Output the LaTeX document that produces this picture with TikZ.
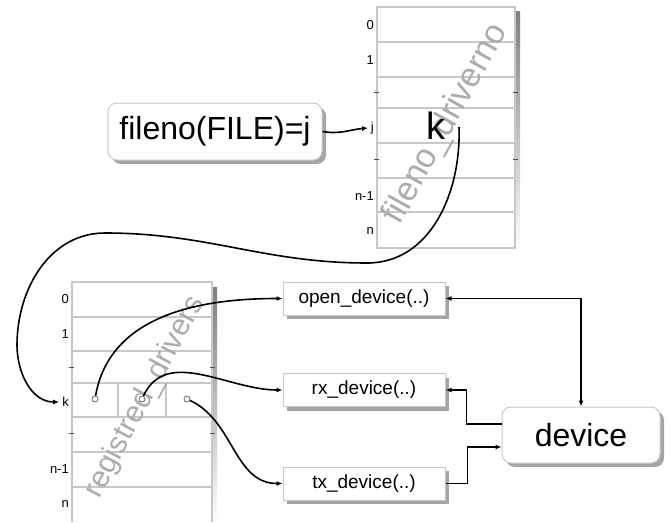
\documentclass[tikz,border=0pt]{standalone}
\usepackage{fontspec}
\setmainfont{Liberation Sans}
\usetikzlibrary{arrows.meta,shadows,calc}
\definecolor{gridline}{RGB}{200,200,200}
\definecolor{shade}{RGB}{165,165,165}
\definecolor{watermark}{RGB}{172,172,172}
\tikzset{
  conn/.style={line width=1.6pt,black},
  tip/.style={-{Latex[length=6pt,width=5pt]}},
  shadowed/.style={general shadow={fill=shade,shadow xshift=4pt,shadow yshift=-4pt}},
  funcbox/.style={draw=gridline,line width=1pt,fill=white,shadowed,minimum width=162pt,minimum height=33pt,inner sep=0pt,font=\fontsize{19}{21}\selectfont},
  bigbox/.style={draw=gridline,line width=1pt,fill=white,shadowed,rounded corners=9pt,inner sep=0pt,font=\fontsize{32}{34}\selectfont},
  idx/.style={anchor=east,inner sep=0pt,font=\fontsize{13}{14}\selectfont},
  wm/.style={text=watermark,inner sep=0pt},
  tick/.style={line width=1pt,black!70},
  hole/.style={circle,draw=black!60,fill=white,line width=0.8pt,minimum size=6pt,inner sep=0pt}
}
\begin{document}
\begin{tikzpicture}[x=1pt,y=-1pt]
\useasboundingbox (0,0) rectangle (671,522);

% ---- fileno_driverno table ----
\fill[shade] (382,11) rectangle (520,252);
\fill[white] (377,7) rectangle (515,248);
\foreach \yy in {42,77,108,143,178,212}
  \draw[gridline,line width=1.2pt] (377,\yy) -- (515,\yy);
\draw[gridline,line width=1.2pt] (377,7) rectangle (515,248);
\foreach \yy in {92,159} {
  \draw[tick] (374,\yy) -- (379,\yy);
  \draw[tick] (513,\yy) -- (518,\yy);
}
\node[idx] (u0) at (374,25) {0};
\node[idx] (u1) at (374,60) {1};
\node[idx] (uj) at (374,128) {j};
\node[idx] (un1) at (374,196) {n-1};
\node[idx] (un) at (374,231) {n};
\node[wm,rotate=61,font=\fontsize{34}{36}\selectfont] (fdn) at (446,124) {fileno\_driverno};
\node[inner sep=0pt,font=\fontsize{38}{40}\selectfont] (kval) at (436,126) {k};
\coordinate (ksrc) at (459,127);

% ---- registred_drivers table ----
\fill[shade] (76,287) rectangle (217,526);
\fill[white] (72,282) rectangle (212,522);
\foreach \yy in {317,351,417,452,487}
  \draw[gridline,line width=1.2pt] (72,\yy) -- (212,\yy);
\draw[gridline,line width=2.5pt] (72,383) -- (212,383);
\draw[gridline,line width=1.2pt] (118,383) -- (118,417);
\draw[gridline,line width=1.2pt] (166,383) -- (166,417);
\draw[gridline,line width=1.2pt] (72,522) -- (72,282) -- (212,282) -- (212,522);
\foreach \yy in {367,433} {
  \draw[tick] (69,\yy) -- (74,\yy);
  \draw[tick] (210,\yy) -- (215,\yy);
}
\node[idx] (l0) at (69,299) {0};
\node[idx] (l1) at (69,334) {1};
\node[idx] (lk) at (69,402) {k};
\node[idx] (ln1) at (69,469) {n-1};
\node[idx] (ln) at (69,504) {n};
\node[hole] (hopen) at (95,399) {};
\node[hole] (hrx) at (142,399) {};
\node[hole] (htx) at (187,399) {};
\node[wm,rotate=62,font=\fontsize{30}{32}\selectfont] (rdn) at (145,397) {registred\_drivers};

% ---- boxes ----
\node[bigbox,minimum width=214pt,minimum height=57pt] (fileno) at (215,131.5) {fileno(FILE)=j};
\node[funcbox] (open) at (364,298.5) {open\_device(..)};
\node[funcbox] (rx) at (364,390) {rx\_device(..)};
\node[funcbox] (tx) at (364,483.5) {tx\_device(..)};
\node[bigbox,minimum width=158pt,minimum height=56pt] (device) at (581,435) {device};

% ---- connectors ----
\draw[conn,tip] (fileno.east) to[out=-10,in=185] (uj.west -| 368,126);
\draw[conn,tip] (ksrc) to[out=-88,in=0] (367,263)
  to[out=180,in=0] (105,233)
  to[out=180,in=90] (17,345)
  to[out=-90,in=180] ($(lk.west)+(-3,0)$);
\draw[conn,tip] (hopen) to[out=80,in=180] (open.west);
\draw[conn,tip] (hrx) to[out=65,in=180] (open.west |- rx.west);
\draw[conn,tip] (htx) to[out=-25,in=180] (tx.west);
\draw[conn,{Latex[length=6pt,width=5pt]}-{Latex[length=6pt,width=5pt]}] (open.east) -| (device.north);
\draw[conn,tip] ($(device.west)+(0,-11)$) -- ++(-35,0) |- (rx.east);
\draw[conn,tip] (tx.east) -- ++(22,0) |- ($(device.west)+(0,12)$);
\end{tikzpicture}
\end{document}
